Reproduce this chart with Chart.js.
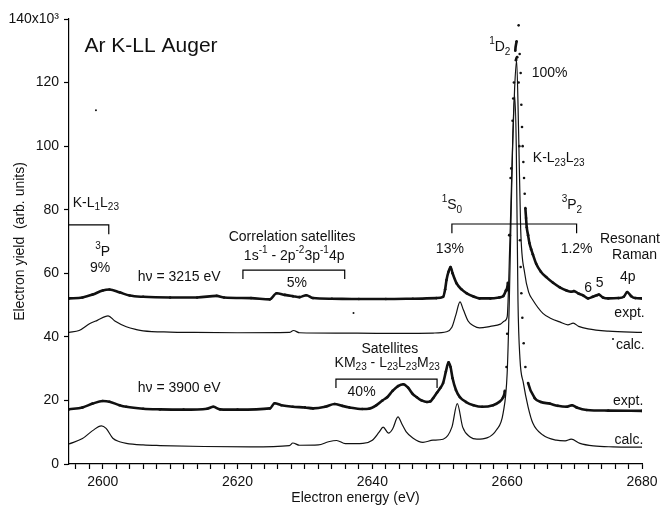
<!DOCTYPE html>
<html>
<head>
<meta charset="utf-8">
<script src="https://cdn.jsdelivr.net/npm/chart.js@4/dist/chart.umd.min.js"></script>
<style>
  html, body { margin: 0; padding: 0; background: #fff; }
  #wrap { width: 663px; height: 509px; }
</style>
</head>
<body>
<div id="wrap"><canvas id="chart"></canvas></div>
<script>
// Series: energies (eV) and yields (x10^3)
const expt3215E = [2595, 2597, 2598.5, 2600, 2601, 2602.5, 2604, 2606, 2610, 2614, 2616.9, 2618, 2622, 2624.8, 2625.8, 2627, 2628.2, 2629.2, 2630.2, 2631.2, 2634, 2638, 2642, 2646, 2649.5, 2650.5, 2650.8, 2651, 2651.3, 2651.6, 2651.9, 2652.5, 2653.2, 2654, 2655, 2655.9, 2657.5, 2658.8, 2659.4, 2659.8, 2660.1, 2660.4, 2660.6, 2660.9, 2661.2, 2661.4, 2661.7, 2661.85, 2662, 2662.1, 2662.2, 2662.3, 2662.4, 2662.5, 2662.6, 2662.7, 2662.8, 2662.9, 2663.1, 2663.3, 2663.55, 2663.8, 2664.3, 2665, 2665.8, 2666.8, 2667.8, 2668.8, 2669.5, 2669.9, 2670.6, 2671.3, 2672, 2672.7, 2673.3, 2673.6, 2674.2, 2675, 2676.5, 2677.3, 2677.8, 2678.4, 2679, 2680];
const expt3215Y = [52.1, 52.4, 53.3, 54.6, 54.9, 54.0, 53.0, 52.6, 52.4, 52.4, 52.9, 52.4, 52.2, 51.8, 53.7, 53.2, 52.8, 52.5, 53.1, 52.2, 52.0, 51.9, 51.9, 52.0, 52.2, 52.6, 55.0, 57.9, 60.5, 62.0, 60.0, 56.8, 55.0, 53.7, 52.7, 52.1, 52.1, 52.4, 52.8, 54.5, 57.0, 72.0, 93.0, 115, 130, 133, 138, 129, 123, 113, 106, 100, 95, 90, 85, 80.5, 77.4, 74.5, 72.0, 69.5, 67.6, 66.0, 63.0, 60.5, 58.8, 57.0, 55.6, 54.6, 54.2, 54.4, 53.6, 53.0, 52.1, 52.6, 53.1, 53.3, 52.4, 52.1, 52.2, 52.6, 54.1, 52.8, 52.2, 52.1];

const calc3215E = [2595, 2596.5, 2598.1, 2599.2, 2600.8, 2601.8, 2603.5, 2605, 2606, 2610, 2613.4, 2620, 2627.7, 2628.3, 2629.2, 2635, 2640.6, 2645, 2649, 2651, 2651.8, 2652.4, 2653, 2653.5, 2654.2, 2655, 2655.9, 2657.5, 2659, 2659.6, 2660, 2660.4, 2660.8, 2661.1, 2661.4, 2661.7, 2662, 2662.6, 2663.2, 2663.8, 2665.3, 2666.5, 2667.8, 2669, 2669.8, 2670.6, 2672, 2675, 2680];
const calc3215Y = [41.4, 42.0, 44.2, 45.2, 46.6, 45.0, 43.2, 42.3, 41.9, 41.5, 41.4, 41.3, 41.4, 42.0, 41.3, 41.2, 41.1, 41.1, 41.2, 41.6, 43.0, 47.0, 51.0, 48.5, 45.0, 43.5, 42.8, 43.3, 44.0, 45.0, 46.3, 70, 100, 118, 127, 104, 74.0, 60.0, 54.0, 51.6, 47.4, 45.8, 44.7, 43.8, 44.3, 43.3, 42.5, 41.8, 41.4];

const expt3900E = [2595, 2597, 2598.5, 2600, 2601, 2602.5, 2603.5, 2606, 2608.5, 2612, 2615.5, 2616.4, 2617.4, 2620, 2624.8, 2625.5, 2626.5, 2628.2, 2630, 2631.2, 2633, 2634.4, 2635.5, 2636.6, 2638.5, 2639.5, 2640.6, 2641.5, 2642.2, 2643, 2643.8, 2644.6, 2645.3, 2646, 2646.6, 2647.3, 2648.1, 2648.6, 2649, 2649.6, 2650.1, 2650.5, 2650.9, 2651.3, 2651.6, 2651.9, 2652.4, 2653, 2653.9, 2655, 2656.3, 2657.9, 2658.8, 2659.4, 2659.65, 2659.9, 2660, 2660.1, 2660.3, 2660.5, 2660.8, 2661, 2661.3, 2661.5, 2661.7, 2661.8, 2661.9, 2662, 2662.1, 2662.25, 2662.45, 2662.7, 2663.1, 2664.1, 2665, 2666.3, 2667.5, 2668.8, 2669.6, 2670.3, 2671.8, 2675, 2680];
const expt3900Y = [17.2, 17.8, 19.0, 19.8, 19.6, 18.5, 18.0, 17.4, 17.2, 17.1, 17.4, 18.0, 17.2, 17.1, 17.5, 19.1, 18.5, 18.0, 17.8, 17.5, 18.0, 18.9, 18.3, 17.8, 17.3, 17.4, 18.5, 20.0, 21.0, 23.0, 24.5, 25.1, 24.0, 22.0, 21.0, 20.0, 19.5, 19.7, 20.7, 22.5, 24.0, 25.5, 29.0, 32.0, 30.5, 27.0, 23.3, 21.0, 19.5, 18.5, 18.0, 18.5, 19.5, 21.0, 23.0, 30.5, 41.0, 54.7, 72.0, 90.0, 108, 120, 127, 128, 120, 100, 70.4, 62.0, 53.7, 46.0, 38.0, 30.5, 25.5, 20.7, 19.5, 19.0, 18.3, 18.0, 18.5, 17.8, 17.0, 16.8, 16.7];

const calc3900E = [2595, 2597, 2598.5, 2599.8, 2600.5, 2601.5, 2602.5, 2603.5, 2606, 2608.5, 2615, 2622, 2627.7, 2628.2, 2629.2, 2632, 2633.5, 2634.7, 2636, 2638.6, 2640, 2641, 2641.6, 2642.4, 2643, 2643.8, 2644.4, 2645, 2646, 2647.5, 2649, 2650.5, 2651.8, 2652.6, 2653.4, 2654.5, 2655.5, 2657, 2658.4, 2659.4, 2660, 2660.3, 2660.6, 2660.85, 2661.1, 2661.35, 2661.6, 2661.9, 2662.4, 2663.1, 2663.8, 2665.3, 2667.3, 2668.6, 2669.5, 2670.8, 2672.8, 2675.7, 2680];
const calc3900Y = [6.3, 8.0, 10.5, 12.0, 11.2, 8.1, 7.0, 6.5, 6.0, 5.8, 5.5, 5.4, 5.8, 6.6, 5.9, 6.0, 7.0, 7.4, 6.4, 6.5, 7.5, 10.0, 11.6, 9.7, 11.0, 14.8, 12.5, 10.2, 8.2, 6.8, 7.5, 7.8, 11.6, 19.0, 11.6, 8.5, 7.8, 8.2, 10.7, 16.0, 28.6, 50, 80, 104, 116, 100, 51.6, 33.0, 25.5, 18.0, 12.9, 9.1, 7.5, 7.3, 7.8, 6.5, 5.7, 5.4, 5.3];

// isolated stray dots in the figure
const strayE = [2599, 2637.2, 2675.7];
const strayY = [111.3, 47.5, 39.3];

const yTicks = [0, 20, 40, 60, 80, 100, 120, 140];

const FONT = '"Liberation Sans", Arial, Helvetica, sans-serif';

// text annotations: [text, energy, yield, align, size]
const notes = [
    ['Ar K-LL Auger', 2597.3, 131.5, 'left', 21],
    ['K-L_{1}L_{23}', 2595.55, 82.1, 'left', 14],
    ['^{3}P', 2600, 66.6, 'center', 14],
    ['9%', 2599.6, 61.6, 'center', 14],
    ['hν = 3215 eV', 2605.2, 58.8, 'left', 14],
    ['Correlation satellites', 2628.1, 71.4, 'center', 14],
    ['1s^{-1} - 2p^{-2}3p^{-1}4p', 2628.4, 65.4, 'center', 14],
    ['5%', 2628.8, 56.9, 'center', 14],
    ['^{1}S_{0}', 2651.8, 81.4, 'center', 14],
    ['^{3}P_{2}', 2669.6, 81.4, 'center', 14],
    ['13%', 2651.5, 67.6, 'center', 14],
    ['1.2%', 2670.3, 67.6, 'center', 14],
    ['Resonant', 2678.2, 70.8, 'center', 14],
    ['Raman', 2678.9, 65.7, 'center', 14],
    ['4p', 2677.9, 58.8, 'center', 14],
    ['6', 2672, 55.3, 'center', 14],
    ['5', 2673.7, 56.9, 'center', 14],
    ['expt.', 2680.4, 47.5, 'right', 14],
    ['calc.', 2680.4, 37.4, 'right', 14],
    ['expt.', 2680.2, 19.8, 'right', 14],
    ['calc.', 2680.2, 7.5, 'right', 14],
    ['hν = 3900 eV', 2605.2, 23.9, 'left', 14],
    ['Satellites', 2642.6, 36.2, 'center', 14],
    ['KM_{23} - L_{23}L_{23}M_{23}', 2642.2, 31.8, 'center', 14],
    ['40%', 2638.4, 22.6, 'center', 14],
    ['^{1}D_{2}', 2658.9, 131, 'center', 14],
    ['100%', 2666.3, 123, 'center', 14],
    ['K-L_{23}L_{23}', 2663.8, 96.2, 'left', 14]
];

// brackets: [x1, x2, y, tick end y, left tick, right tick]
const brackets = [
    [2595, 2600.9, 75.2, 72.3, false, true],
    [2620.8, 2635.9, 61.0, 58.2, true, true],
    [2651.8, 2670.3, 75.5, 72.6, true, true],
    [2634.6, 2649.6, 26.7, 23.9, true, true]
];

function toPoints(xs, ys) {
    return xs.map((x, i) => ({ x: x, y: ys[i] }));
}

function drawRich(ctx, str, x, y, align, size) {
    const parts = [];
    const re = /([\^_])\{([^}]*)\}/g;
    let last = 0, m;
    while ((m = re.exec(str))) {
        if (m.index > last) parts.push({ t: str.slice(last, m.index), k: '' });
        parts.push({ t: m[2], k: m[1] });
        last = re.lastIndex;
    }
    if (last < str.length) parts.push({ t: str.slice(last), k: '' });

    const small = Math.round(size * 0.72);
    let w = 0;
    parts.forEach(p => {
        ctx.font = (p.k ? small : size) + 'px ' + FONT;
        p.w = ctx.measureText(p.t).width;
        w += p.w;
    });
    let cx = align === 'center' ? x - w / 2 : align === 'right' ? x - w : x;
    ctx.textAlign = 'left';
    ctx.textBaseline = 'middle';
    parts.forEach(p => {
        ctx.font = (p.k ? small : size) + 'px ' + FONT;
        const dy = p.k === '^' ? -size * 0.42 : p.k === '_' ? size * 0.33 : 0;
        ctx.fillText(p.t, cx, y + dy);
        cx += p.w;
    });
}

const annotationPlugin = {
    id: 'annotations',
    afterDatasetsDraw(chart) {
        const { ctx, scales: { x, y } } = chart;
        ctx.save();
        ctx.strokeStyle = '#000';
        ctx.lineWidth = 1.2;
        brackets.forEach(b => {
            const x1 = x.getPixelForValue(b[0]);
            const x2 = x.getPixelForValue(b[1]);
            const yy = y.getPixelForValue(b[2]);
            const yt = y.getPixelForValue(b[3]);
            ctx.beginPath();
            if (b[4]) { ctx.moveTo(x1, yt); ctx.lineTo(x1, yy); } else { ctx.moveTo(x1, yy); }
            ctx.lineTo(x2, yy);
            if (b[5]) ctx.lineTo(x2, yt);
            ctx.stroke();
        });
        ctx.fillStyle = '#111';
        notes.forEach(n => {
            drawRich(ctx, n[0], x.getPixelForValue(n[1]), y.getPixelForValue(n[2]), n[3], n[4]);
        });
        ctx.restore();
    }
};

// hide the very steep segments of the measured curves so only the dots show there
function steepColor(ctx) {
    const dy = Math.abs(ctx.p1.y - ctx.p0.y);
    const dx = Math.abs(ctx.p1.x - ctx.p0.x);
    return (dy > 14 && dy > 3 * dx) ? 'rgba(0,0,0,0)' : '#111';
}

function exptSet(xs, ys) {
    return {
        data: toPoints(xs, ys),
        borderColor: '#111',
        borderWidth: 2.6,
        pointRadius: 1.3,
        pointBackgroundColor: '#111',
        pointBorderWidth: 0,
        cubicInterpolationMode: 'monotone',
        segment: { borderColor: steepColor }
    };
}

function calcSet(xs, ys) {
    return {
        data: toPoints(xs, ys),
        borderColor: '#111',
        borderWidth: 1.2,
        pointRadius: 0,
        cubicInterpolationMode: 'monotone'
    };
}

new Chart(document.getElementById('chart'), {
    type: 'line',
    data: {
        datasets: [
            exptSet(expt3215E, expt3215Y),
            calcSet(calc3215E, calc3215Y),
            exptSet(expt3900E, expt3900Y),
            calcSet(calc3900E, calc3900Y),
            {
                data: toPoints(strayE, strayY),
                showLine: false,
                pointRadius: 1,
                pointBackgroundColor: '#111',
                pointBorderWidth: 0
            }
        ]
    },
    options: {
        responsive: true,
        maintainAspectRatio: false,
        animation: false,
        events: [],
        layout: { padding: { top: 19, right: 21, left: 0, bottom: 0 } },
        plugins: { legend: { display: false }, tooltip: { enabled: false } },
        scales: {
            x: {
                type: 'linear',
                min: 2595,
                max: 2680,
                afterFit: s => { s.height = 45; },
                border: { display: true, color: '#000', width: 1.2 },
                grid: { drawOnChartArea: false, drawTicks: true, tickLength: 5, color: '#000', tickWidth: 1.2 },
                ticks: {
                    stepSize: 2,
                    includeBounds: false,
                    autoSkip: false,
                    maxRotation: 0,
                    padding: 5,
                    color: '#111',
                    font: { family: FONT, size: 14 },
                    callback: v => (v % 20 === 0 ? String(v) : '')
                },
                title: {
                    display: true,
                    text: 'Electron energy (eV)',
                    color: '#111',
                    font: { family: FONT, size: 14 },
                    padding: { top: 0, bottom: 2 }
                }
            },
            y: {
                min: 0,
                max: 140,
                afterFit: s => { s.width = 69; },
                afterBuildTicks: s => { s.ticks = yTicks.map(v => ({ value: v })); },
                border: { display: true, color: '#000', width: 1.2 },
                grid: { drawOnChartArea: false, drawTicks: true, tickLength: 5, color: '#000', tickWidth: 1.2 },
                ticks: {
                    padding: 5,
                    color: '#111',
                    font: { family: FONT, size: 14 },
                    callback: v => (v === 140 ? '140x10³' : String(v))
                },
                title: {
                    display: true,
                    text: 'Electron yield  (arb. units)',
                    color: '#111',
                    font: { family: FONT, size: 14 },
                    padding: { top: 12, bottom: 0 }
                }
            }
        }
    },
    plugins: [annotationPlugin]
});
</script>
</body>
</html>
